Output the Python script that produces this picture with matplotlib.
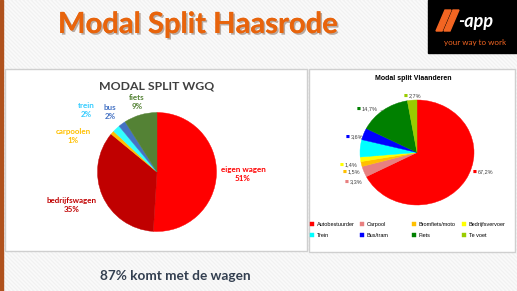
import matplotlib.pyplot as plt
import numpy as np
from matplotlib.patches import Rectangle, Polygon
from matplotlib.collections import LineCollection
import matplotlib.patheffects as pe

W, H = 517, 291

# Modal split WGQ (linker taart)
wgq_labels = ["eigen wagen", "bedrijfswagen", "carpoolen", "trein", "bus", "fiets"]
wgq_values = [51, 35, 1, 2, 2, 9]
wgq_colors = ["#ff0000", "#c00000", "#ffc000", "#33ffff", "#4472c4", "#548235"]
wgq_text_colors = ["#ff0000", "#c00000", "#ffc000", "#33ccff", "#4472c4", "#548235"]

# Modal split Vlaanderen (rechter taart)
vl_labels = ["Autobestuurder", "Carpool", "Bromfiets/moto", "Bedrijfsvervoer",
             "Trein", "Bus/tram", "Fiets", "Te voet"]
vl_values = [67.2, 3.3, 1.5, 1.4, 5.3, 3.6, 14.7, 2.7]
vl_colors = ["#ff0000", "#e88080", "#ffc000", "#ffff00",
             "#00ffff", "#0000ff", "#008000", "#99cc00"]

# label posities (pixels op de slide)
wgq_label_pos = [(243, 174), (72, 205), (73, 136), (86, 110), (110, 112), (137, 102)]
vl_label_pos = [(475, 172), (347, 182), (345, 172), (342, 165),
                (373, 154), (348, 137), (359, 109), (406, 96)]

fig = plt.figure(figsize=(W / 100, H / 100), dpi=100)


def px_axes(x, y, w, h):
    return fig.add_axes([x / W, 1 - (y + h) / H, w / W, h / H])


# achtergrond in pixelcoordinaten
bg = px_axes(0, 0, W, H)
bg.set_xlim(0, W)
bg.set_ylim(H, 0)
bg.axis('off')
bg.add_patch(Rectangle((0, 0), W, H, color="#f1f1f1", zorder=0))
stripes = [[(x, 0), (x + H, H)] for x in np.arange(-H, W, 4)]
bg.add_collection(LineCollection(stripes, colors="#fafafa", linewidths=1.2, zorder=0.5))
bg.add_patch(Rectangle((0, 0), 2.5, H, color="#b0521d", zorder=1))

# panelen
bg.add_patch(Rectangle((5, 69), 302, 182, facecolor="white", edgecolor="#cfcfcf", lw=1, zorder=1))
bg.add_patch(Rectangle((309, 69), 206, 183, facecolor="white", edgecolor="#cfcfcf", lw=1, zorder=1))

# titel
bg.text(198, 25, "Modal Split Haasrode", fontsize=21, fontweight='bold', family='Lato',
        color="#e8640c", ha='center', va='center', zorder=3,
        path_effects=[pe.withSimplePatchShadow(offset=(1.2, -1.2), alpha=0.35), pe.Normal()])

# logo
bg.add_patch(Rectangle((428, 0), 89, 53, color="black", zorder=2))
orange = "#f26522"
bg.add_patch(Polygon([(436, 31), (442, 31), (451, 10), (445, 10)], color=orange, zorder=3))
bg.add_patch(Polygon([(444, 31), (450, 31), (459, 10), (453, 10)], color=orange, zorder=3))
bg.text(458, 21, "-app", fontsize=13, fontweight='bold', style='italic', family='Lato',
        color="white", ha='left', va='center', zorder=3)
bg.text(475, 43, "your way to work", fontsize=5.8, family='Lato', color=orange,
        ha='center', va='center', zorder=3)

# onderschrift
bg.text(100, 276, "87% komt met de wagen", fontsize=9.8, fontweight='bold', family='Lato',
        color="#333f50", ha='left', va='center', zorder=3)

# linker taart
bg.text(157, 86, "MODAL SPLIT WGQ", fontsize=8.8, fontweight='bold', family='Lato',
        color="#404040", ha='center', va='center', zorder=3)
ax1 = px_axes(157 - 59.5, 172 - 59.5, 119, 119)
wedges1, _ = ax1.pie(wgq_values, colors=wgq_colors, startangle=90, counterclock=False)
for w in wedges1:
    w.set_edgecolor(w.get_facecolor())
    w.set_linewidth(0.3)
ax1.set_xlim(-1, 1)
ax1.set_ylim(-1, 1)
for lab, val, col, (x, y) in zip(wgq_labels, wgq_values, wgq_text_colors, wgq_label_pos):
    bg.text(x, y, f"{lab}\n{val}%", fontsize=5.8, fontweight='bold', family='Lato',
            color=col, ha='center', va='center', linespacing=1.25, zorder=3)

# rechter taart
bg.text(413, 78, "Modal split Vlaanderen", fontsize=5, fontweight='bold',
        family='Liberation Sans', color="black", ha='center', va='center', zorder=3)
ax2 = px_axes(360, 100, 114, 105)
wedges, _ = ax2.pie(vl_values, colors=vl_colors, startangle=90, counterclock=False)
for w in wedges:
    w.set_edgecolor(w.get_facecolor())
    w.set_linewidth(0.3)
ax2.set_aspect('auto')
ax2.set_xlim(-1, 1)
ax2.set_ylim(-1, 1)

for lab, val, col, (x, y), w in zip(vl_labels, vl_values, vl_colors, vl_label_pos, wedges):
    txt = f"{val:.1f}%".replace('.', ',')
    if lab == "Trein":
        bg.text(x, y, txt, fontsize=4, family='Liberation Sans', color="#404040",
                ha='center', va='center', zorder=3)
        continue
    bg.text(x, y, "■", fontsize=3, family='DejaVu Sans', color=col,
            ha='center', va='center', zorder=3)
    bg.text(x + 2.5, y, txt, fontsize=4, family='Liberation Sans', color="#404040",
            ha='left', va='center', zorder=3)
    if lab == "Fiets":
        ang = np.deg2rad((w.theta1 + w.theta2) / 2)
        ax2.annotate("", xy=(np.cos(ang), np.sin(ang)), xytext=(x + 19, y + 1.5),
                     textcoords=bg.transData,
                     arrowprops=dict(arrowstyle='-', color="#808080", lw=0.4))

# legende: vier kolommen
col_x = [310, 360, 412, 462]
for c in range(4):
    fig.legend([wedges[c], wedges[c + 4]], [vl_labels[c], vl_labels[c + 4]],
               loc='upper left', bbox_to_anchor=(col_x[c] / W, 1 - 222 / H),
               frameon=False, prop={'family': 'Liberation Sans', 'size': 4},
               handlelength=0.7, handleheight=0.7, handletextpad=0.5,
               labelspacing=1.0, borderpad=0, borderaxespad=0)

fig.savefig("out.png", dpi=100)
